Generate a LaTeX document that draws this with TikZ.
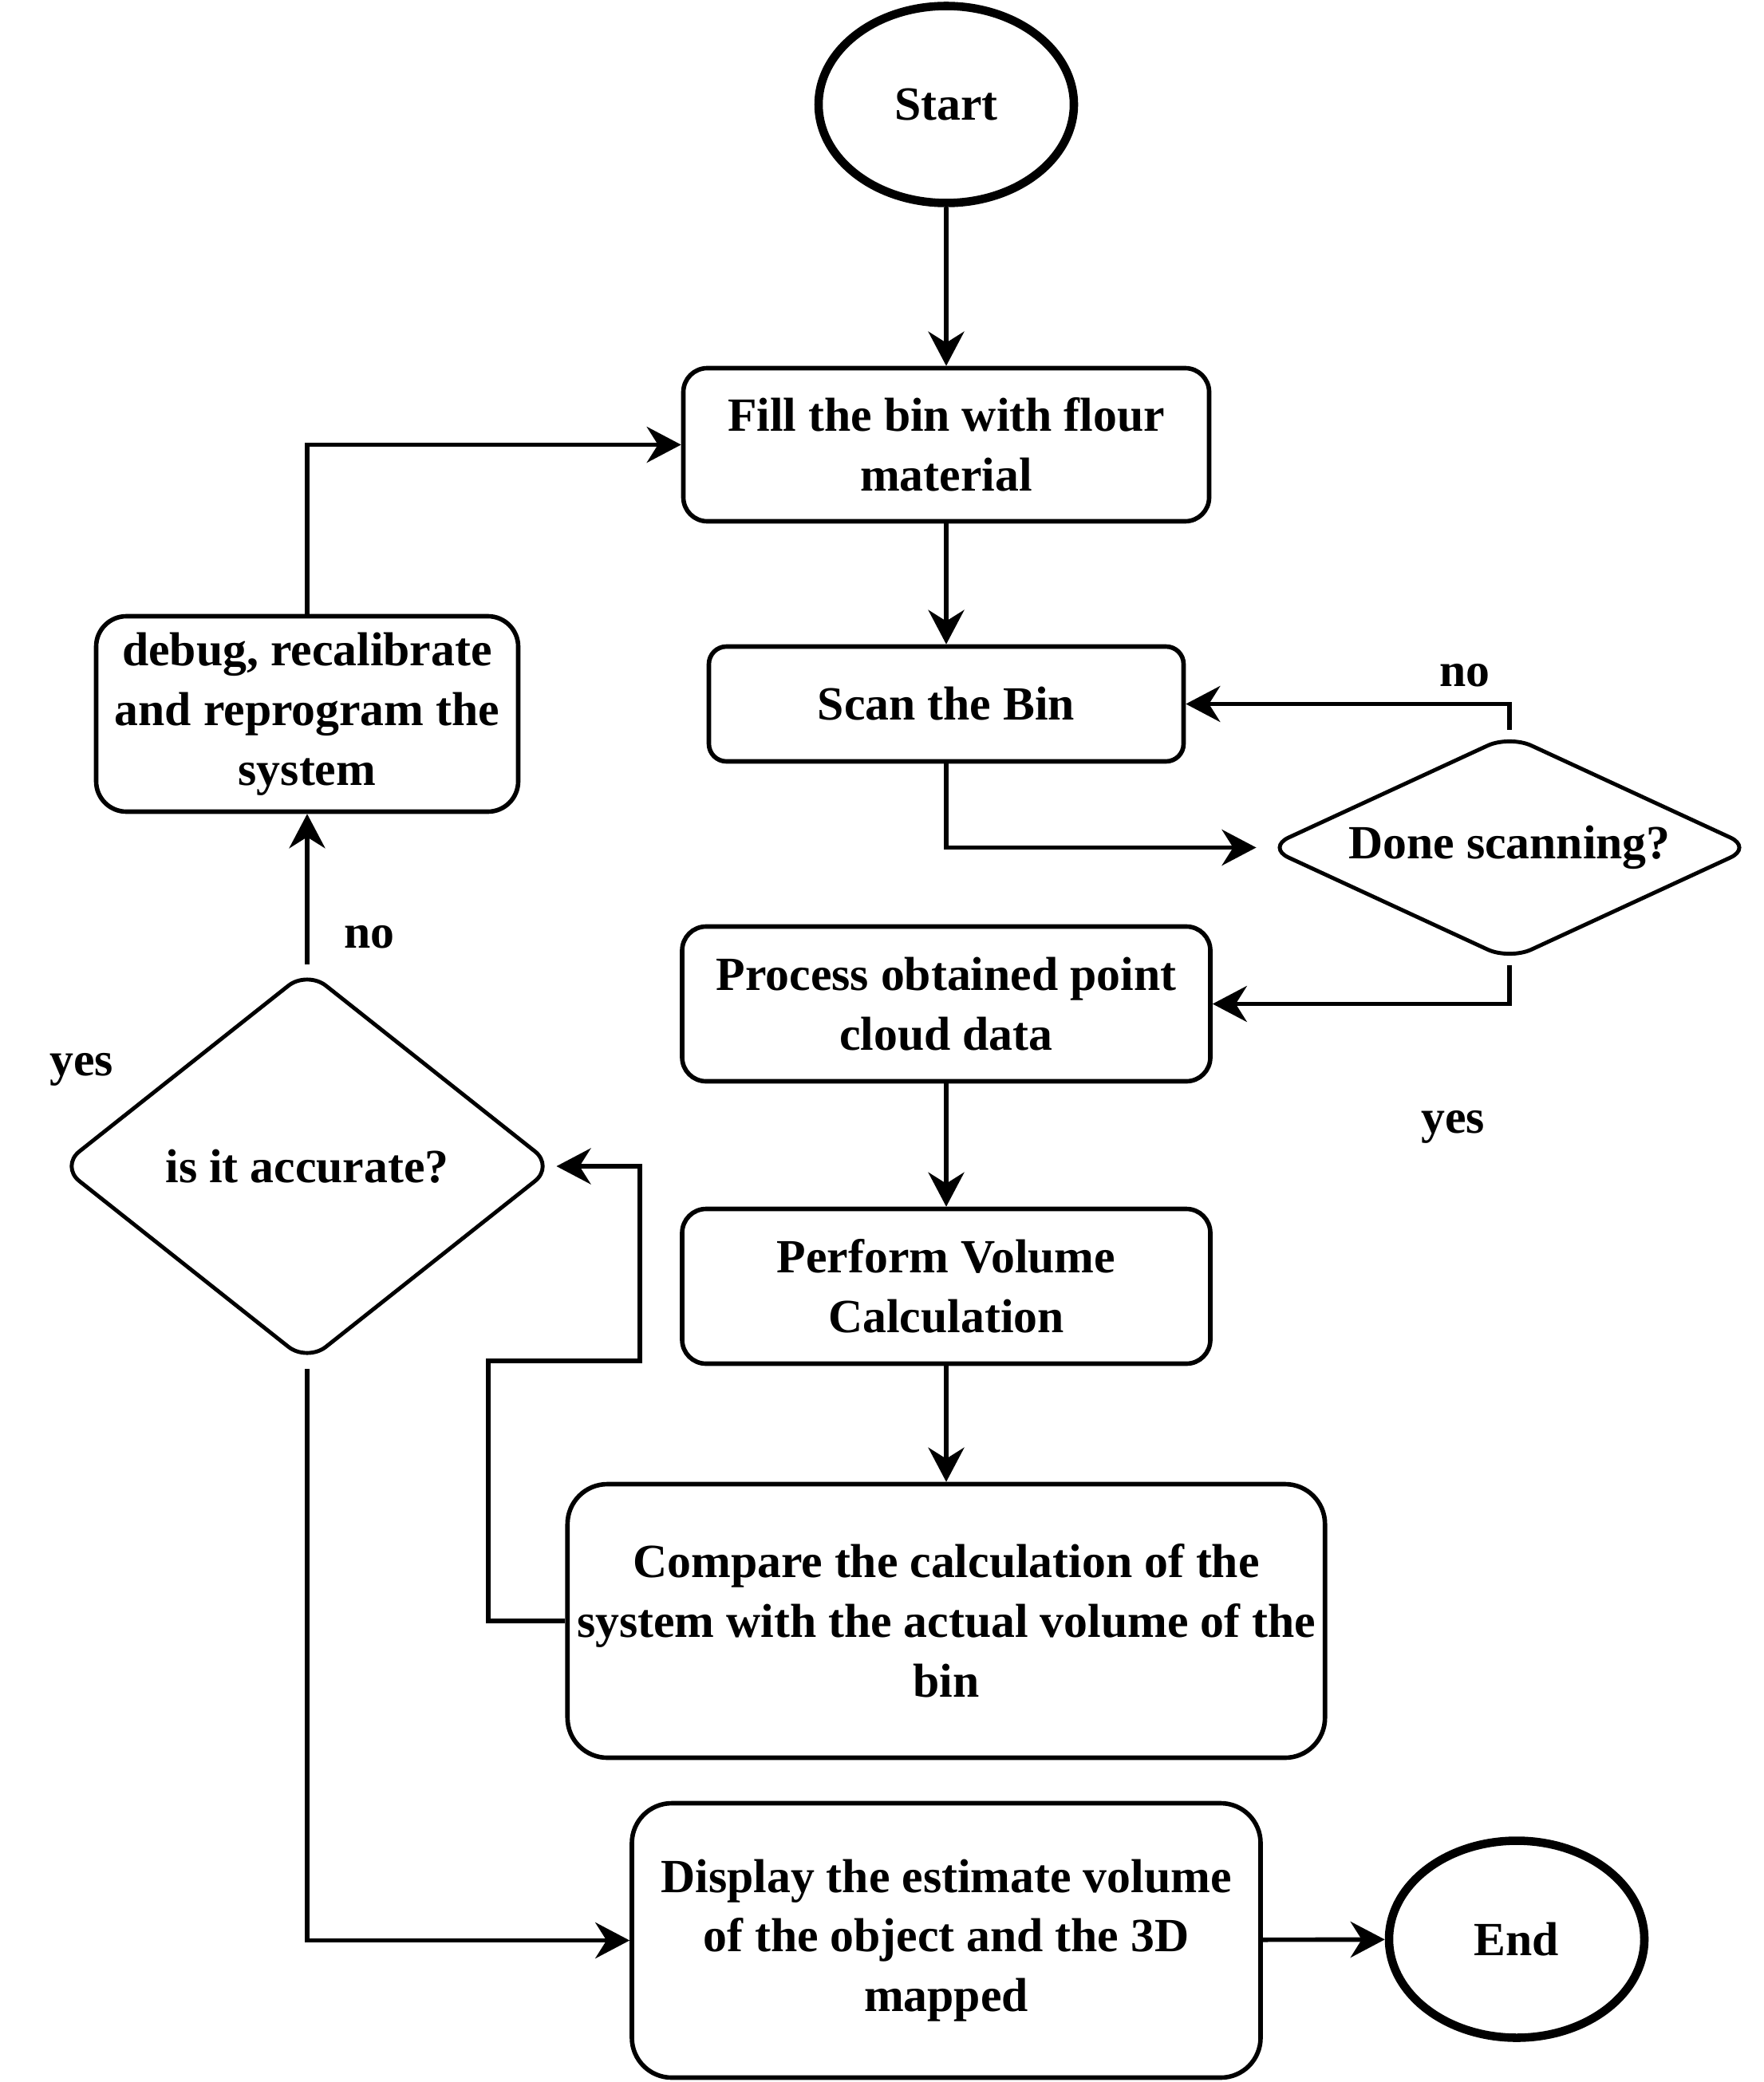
\documentclass[tikz,border=0pt]{standalone}
\usepackage{fontspec}
\setmainfont{Liberation Serif}
\usetikzlibrary{shapes.geometric,arrows.meta}
\newcommand{\lbl}{\fontsize{17}{21.3}\selectfont\bfseries}

\begin{document}
\begin{tikzpicture}[
   every node/.style={font=\lbl, align=center},
   box/.style={draw, line width=1.6pt, rounded corners=#1},
   box/.default=0.3cm,
   term/.style={draw, ellipse, line width=3pt, minimum width=3.2cm, minimum height=2.47cm},
   ask/.style={draw, diamond, line width=1.4pt, rounded corners=0.3cm, inner sep=0pt},
   flow/.style={line width=1.6pt, -{Stealth[length=4.3mm,width=4.5mm,inset=1.4mm]}}]
   \useasboundingbox (0,0) rectangle (22.1,-26.1);
   \node[term] (start) at (11.86,-1.31) {Start};
   \node[box, minimum width=6.59cm, minimum height=1.92cm] (fill) at (11.86,-5.575) {Fill the bin with flour\\material};
   \node[box=0.22cm, minimum width=5.95cm, minimum height=1.44cm] (scan) at (11.86,-8.825) {Scan the Bin};
   \node[ask, aspect=2.16, minimum width=6.1cm, minimum height=2.83cm] (done) at (18.92,-10.625) {Done scanning?};
   \node[box, minimum width=6.62cm, minimum height=1.94cm] (process) at (11.86,-12.585) {Process obtained point\\cloud data};
   \node[box, minimum width=6.62cm, minimum height=1.94cm] (volume) at (11.86,-16.125) {Perform Volume\\Calculation};
   \node[box=0.5cm, minimum width=9.42cm, minimum height=3.43cm] (compare) at (11.86,-20.32) {Compare the calculation of the\\system with the actual volume of the\\bin};
   \node[box=0.5cm, minimum width=7.88cm, minimum height=3.44cm] (display) at (11.86,-24.325) {Display the estimate volume\\of the object and the 3D\\mapped};
   \node[term] (end) at (19.01,-24.31) {End};
   \node[box=0.38cm, minimum width=5.29cm, minimum height=2.45cm] (debug) at (3.85,-8.95) {debug, recalibrate\\and reprogram the\\system};
   \node[ask, aspect=1.26, minimum width=6.2cm, minimum height=4.92cm] (acc) at (3.85,-14.62) {is it accurate?};
   \node (no1) at (18.36,-8.47) {no};
   \node (yes1) at (18.21,-14.13) {yes};
   \node (no2) at (4.63,-11.75) {no};
   \node (yes2) at (1.02,-13.41) {yes};
   \coordinate (c1) at (6.12,-17.06);
   \coordinate (c2) at (8.02,-14.62);
   \draw[flow] (start) -- (fill);
   \draw[flow] (fill) -- (scan);
   \draw[flow] (scan.south) |- ([xshift=-1mm]done.west);
   \draw[flow] ([yshift=0.4mm]done.north) |- (scan.east);
   \draw[flow] ([yshift=-0.4mm]done.south) |- (process.east);
   \draw[flow] (process) -- (volume);
   \draw[flow] (volume) -- (compare);
   \draw[flow] (compare.west) -| (c1) -| (c2) -- (acc.east);
   \draw[flow] ([yshift=0.5mm]acc.north) -- (debug.south);
   \draw[flow] (debug.north) |- (fill.west);
   \draw[flow] ([yshift=-0.6mm]acc.south) |- (display.west);
   \draw[flow] (display) -- (end);
\end{tikzpicture}
\end{document}
